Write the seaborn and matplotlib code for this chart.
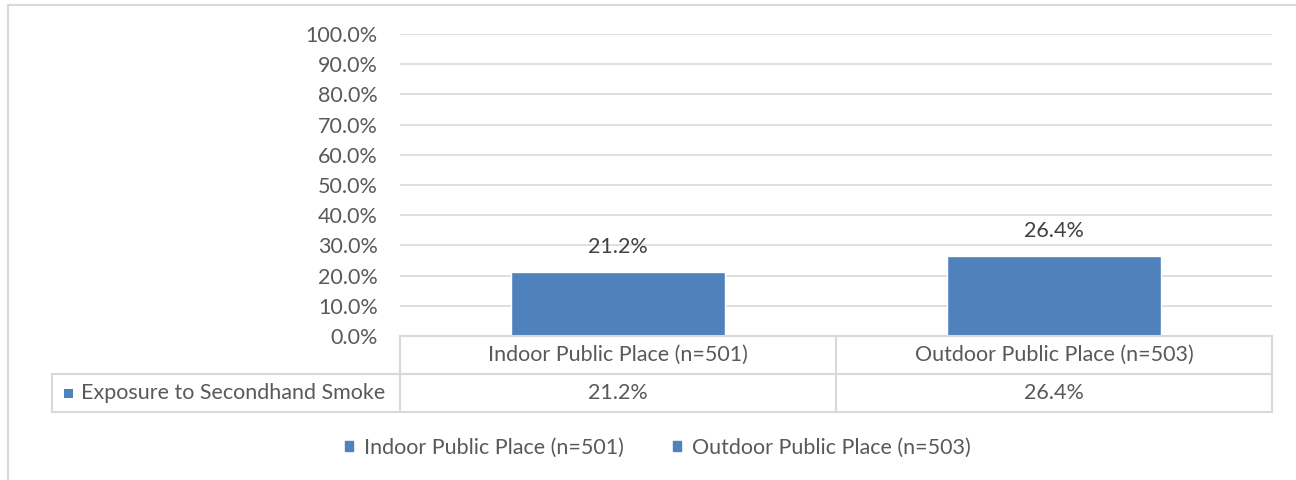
import matplotlib
matplotlib.use("Agg")
import matplotlib.pyplot as plt
from matplotlib.patches import Patch, Rectangle
from matplotlib.lines import Line2D
import matplotlib.transforms as mtransforms
import seaborn as sns
import pandas as pd

categories = ["Indoor Public Place (n=501)", "Outdoor Public Place (n=503)"]
exposure = [21.2, 26.4]
series_name = "Exposure to Secondhand Smoke"
y_ticks = [0, 10, 20, 30, 40, 50, 60, 70, 80, 90, 100]

BAR = "#4f81bd"
GRID = "#d9d9d9"
TXT = "#595959"
FONT = "Lato"
FS = 15.5

sns.set_theme(style="white")
plt.rcParams["font.family"] = [FONT, "DejaVu Sans"]

W, H = 1296, 480
fig = plt.figure(figsize=(W / 100, H / 100), dpi=100)
fig.patch.set_facecolor("white")


def fx(x):
    return x / W


def fy(y):
    return 1 - y / H


# plot area in pixel terms
left, right, top, bottom = 400, 1272, 34, 336
ax = fig.add_axes([fx(left), fy(bottom), fx(right - left), (bottom - top) / H])

df = pd.DataFrame({"category": categories, "value": exposure})
sns.barplot(data=df, x="category", y="value", color=BAR, width=0.49,
            saturation=1, ax=ax, zorder=3)

ax.set_ylim(0, 100)
ax.set_xlim(-0.5, len(categories) - 0.5)
ax.set_yticks(y_ticks)
ax.set_yticklabels([f"{t:.1f}%" for t in y_ticks], color=TXT, fontsize=FS)
ax.tick_params(axis="y", length=0, pad=16)
ax.set_xticks([])
ax.set_xlabel("")
ax.set_ylabel("")
for s in ax.spines.values():
    s.set_visible(False)
for t in y_ticks[1:]:
    ax.axhline(t, color=GRID, lw=1.2, zorder=1)

# value labels above the bars
for i, v in enumerate(exposure):
    ax.annotate(f"{v:.1f}%", (i, v), xytext=(0, 18), textcoords="offset points",
                ha="center", va="center", color="#404040", fontsize=FS, zorder=4)

# data table under the plot area
figpx = mtransforms.Affine2D().scale(1 / W, -1 / H).translate(0, 1) + fig.transFigure
row1, row2, row3 = 336, 374, 412
tleft = 52
lines = [
    ((left, left), (row1, row3)),
    ((right, right), (row1, row3)),
    ((836, 836), (row1, row3)),
    ((tleft, tleft), (row2, row3)),
    ((left, right), (row1, row1)),
    ((tleft, right), (row2, row2)),
    ((tleft, right), (row3, row3)),
]
for xs, ys in lines:
    fig.add_artist(Line2D(xs, ys, transform=figpx, color=GRID, lw=1.5))

blend = mtransforms.blended_transform_factory(ax.transData, figpx)
for i, (c, v) in enumerate(zip(categories, exposure)):
    fig.text(i, (row1 + row2) / 2, c, transform=blend, ha="center", va="center",
             color=TXT, fontsize=FS)
    fig.text(i, (row2 + row3) / 2, f"{v:.1f}%", transform=blend, ha="center",
             va="center", color=TXT, fontsize=FS)

fig.add_artist(Rectangle((64, (row2 + row3) / 2 - 4.5), 9, 9, transform=figpx,
                         color=BAR, lw=0))
fig.text(81, (row2 + row3) / 2, series_name, transform=figpx, ha="left",
         va="center", color=TXT, fontsize=FS)

# legend
handles = [Patch(facecolor=BAR, edgecolor=BAR) for _ in categories]
fig.legend(handles, categories, loc="center", bbox_to_anchor=(fx(658), fy(448)),
           ncol=2, frameon=False, fontsize=FS, handlelength=0.36,
           handleheight=0.36, handletextpad=0.5, columnspacing=2.3,
           labelcolor=TXT, borderpad=0)

# chart border
fig.add_artist(Line2D((8, 8), (5, 480), transform=figpx, color=GRID, lw=1.5))
fig.add_artist(Line2D((8, 1296), (5, 5), transform=figpx, color=GRID, lw=1.5))

fig.savefig("out.png", dpi=100)
